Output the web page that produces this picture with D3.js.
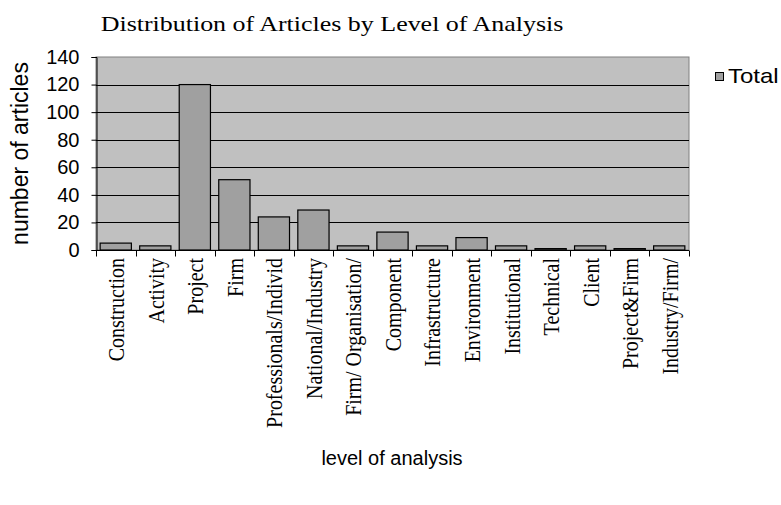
<!DOCTYPE html>
<html>
<head>
<meta charset="utf-8">
<script src="https://cdn.jsdelivr.net/npm/d3@7"></script>
<style>
  html, body { margin: 0; padding: 0; background: #ffffff; }
  svg { display: block; }
</style>
</head>
<body>
<svg id="chart" width="781" height="505"></svg>
<script>
// Levels of analysis and the number of articles in each
const categories = [
  "Construction", "Activity", "Project", "Firm", "Professionals/Individ",
  "National/Industry", "Firm/ Organisation/", "Component", "Infrastructure",
  "Environment", "Institutional", "Technical", "Client", "Project&Firm",
  "Industry/Firm/"
];
const totals = [5, 3, 120, 51, 24, 29, 3, 13, 3, 9, 3, 1, 3, 1, 3];
const yTicks = [0, 20, 40, 60, 80, 100, 120, 140];
const seriesName = "Total";

const svg = d3.select("#chart");
const plot = { left: 96, right: 689, top: 57, bottom: 250 };
const wide = 1.2; // horizontal stretch applied to some text

const x = d3.scaleBand()
  .domain(categories)
  .range([plot.left, plot.right])
  .paddingInner(0).paddingOuter(0);

const y = d3.scaleLinear()
  .domain([0, 140])
  .range([plot.bottom, plot.top]);

// plot area background
svg.append("rect")
  .attr("x", plot.left).attr("y", plot.top)
  .attr("width", plot.right - plot.left)
  .attr("height", plot.bottom - plot.top)
  .attr("fill", "#c0c0c0")
  .attr("stroke", "#808080")
  .attr("stroke-width", 1);

// horizontal gridlines
svg.append("g")
  .selectAll("line")
  .data(yTicks.filter(d => d > 0 && d < 140))
  .join("line")
  .attr("x1", plot.left).attr("x2", plot.right)
  .attr("y1", d => Math.round(y(d)) + 0.5)
  .attr("y2", d => Math.round(y(d)) + 0.5)
  .attr("stroke", "#000")
  .attr("stroke-width", 1);

// bars
const barW = x.bandwidth() * 0.79;
svg.append("g")
  .selectAll("rect")
  .data(categories.map((c, i) => ({ c, v: totals[i] })))
  .join("rect")
  .attr("x", d => x(d.c) + (x.bandwidth() - barW) / 2)
  .attr("y", d => y(d.v))
  .attr("width", barW)
  .attr("height", d => y(0) - y(d.v))
  .attr("fill", "#a0a0a0")
  .attr("stroke", "#000")
  .attr("stroke-width", 1.2);

// y axis
const yAxis = d3.axisLeft(y)
  .tickValues(yTicks)
  .tickSize(5)
  .tickPadding(12);
const gy = svg.append("g")
  .attr("transform", `translate(${plot.left + 0.5},0)`)
  .call(yAxis);
gy.select(".domain").attr("stroke", "#000");
gy.selectAll(".tick line").attr("stroke", "#000");
gy.selectAll(".tick text")
  .attr("font-family", "Liberation Sans, Arial, sans-serif")
  .attr("font-size", 20)
  .attr("fill", "#000");

// x axis: ticks at category boundaries
const gx = svg.append("g")
  .attr("transform", `translate(0,${plot.bottom + 0.5})`);
gx.append("line")
  .attr("x1", plot.left).attr("x2", plot.right)
  .attr("stroke", "#000");
gx.selectAll("line.tk")
  .data(categories.map(c => x(c)).concat([plot.right]))
  .join("line")
  .attr("class", "tk")
  .attr("x1", d => Math.round(d) + 0.5).attr("x2", d => Math.round(d) + 0.5)
  .attr("y1", 0).attr("y2", 6)
  .attr("stroke", "#000");

// rotated category labels
svg.append("g")
  .selectAll("text")
  .data(categories)
  .join("text")
  .attr("transform", d => `translate(${x(d) + x.bandwidth() / 2},${plot.bottom + 8}) scale(${wide},1) rotate(-90)`)
  .attr("text-anchor", "end")
  .attr("dy", "0.35em")
  .attr("font-family", "Liberation Serif, Times New Roman, serif")
  .attr("font-size", 20)
  .attr("fill", "#000")
  .text(d => d);

// title
svg.append("text")
  .attr("transform", "translate(332,31) scale(1.18,1)")
  .attr("text-anchor", "middle")
  .attr("font-family", "Liberation Serif, Times New Roman, serif")
  .attr("font-size", 22)
  .attr("fill", "#000")
  .text("Distribution of Articles by Level of Analysis");

// axis titles
svg.append("text")
  .attr("transform", `translate(28,${(plot.top + plot.bottom) / 2}) rotate(-90)`)
  .attr("text-anchor", "middle")
  .attr("font-family", "Liberation Sans, Arial, sans-serif")
  .attr("font-size", 23)
  .attr("fill", "#000")
  .text("number of articles");

svg.append("text")
  .attr("x", 392).attr("y", 465)
  .attr("text-anchor", "middle")
  .attr("font-family", "Liberation Sans, Arial, sans-serif")
  .attr("font-size", 20)
  .attr("fill", "#000")
  .text("level of analysis");

// legend
const lg = svg.append("g").attr("transform", "translate(715,72)");
lg.append("rect")
  .attr("x", 0.5).attr("y", 0.5)
  .attr("width", 8).attr("height", 8)
  .attr("fill", "#a0a0a0")
  .attr("stroke", "#000");
lg.append("text")
  .attr("transform", `translate(13,11) scale(${wide},1)`)
  .attr("font-family", "Liberation Sans, Arial, sans-serif")
  .attr("font-size", 20)
  .attr("fill", "#000")
  .text(seriesName);
</script>
</body>
</html>
